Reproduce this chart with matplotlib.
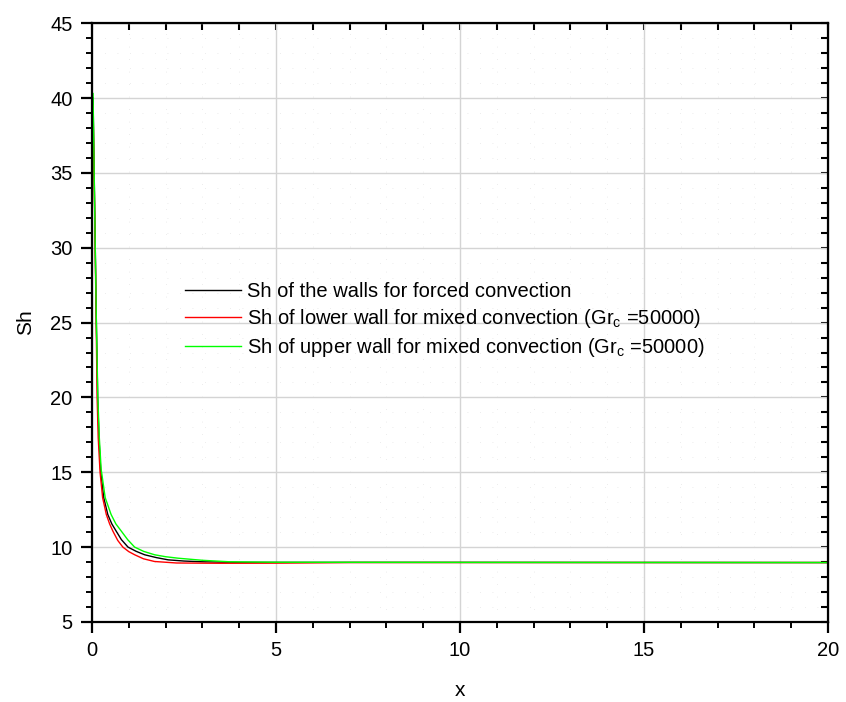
import matplotlib.pyplot as plt
from matplotlib.ticker import MultipleLocator

plt.rcParams['font.family'] = ['Liberation Sans', 'DejaVu Sans']
plt.rcParams['mathtext.fontset'] = 'custom'
plt.rcParams['mathtext.rm'] = 'Liberation Sans'
plt.rcParams['mathtext.it'] = 'Liberation Sans'

# Sh along the channel
x_forced = [0.03, 0.06, 0.09, 0.12, 0.155, 0.19, 0.24, 0.32, 0.43, 0.54, 0.66, 0.8, 0.98, 1.2, 1.43, 1.75, 2.07, 2.5, 3.0, 4.0, 10.0, 20.0]
sh_forced = [40.0, 35.0, 30.0, 25.0, 20.0, 17.3, 15.0, 13.3, 12.18, 11.55, 11.06, 10.5, 10.0, 9.72, 9.49, 9.3, 9.15, 9.07, 9.02, 8.98, 8.98, 8.97]

x_lower = [0.03, 0.06, 0.09, 0.115, 0.14, 0.17, 0.22, 0.29, 0.39, 0.48, 0.57, 0.7, 0.84, 1.0, 1.16, 1.4, 1.70, 2.3, 3.5, 5.0, 7.0, 20.0]
sh_lower = [39.5, 34.5, 29.5, 25.0, 20.0, 17.3, 15.0, 13.3, 12.18, 11.55, 11.06, 10.45, 10.0, 9.7, 9.49, 9.22, 9.04, 8.94, 8.92, 8.93, 8.97, 8.97]

x_upper = [0.03, 0.06, 0.09, 0.12, 0.16, 0.20, 0.25, 0.36, 0.52, 0.65, 0.80, 0.97, 1.16, 1.40, 1.70, 2.0, 2.34, 3.0, 3.75, 5.0, 10.0, 20.0]
sh_upper = [40.3, 35.0, 30.0, 25.0, 20.0, 17.3, 15.2, 13.3, 12.18, 11.55, 11.06, 10.5, 10.0, 9.72, 9.49, 9.36, 9.26, 9.12, 9.02, 8.99, 8.98, 8.97]

labels = ['Sh of the walls for forced convection',
          r'Sh of lower wall for mixed convection (Gr$_{\mathrm{c}}$ =50000)',
          r'Sh of upper wall for mixed convection (Gr$_{\mathrm{c}}$ =50000)']

fig = plt.figure(figsize=(8.46, 7.02), dpi=100)
ax = fig.add_axes([0.1087, 0.114, 0.870, 0.853])

ax.plot(x_forced, sh_forced, color='black', lw=1.0, label=labels[0])
ax.plot(x_lower, sh_lower, color='#ff0000', lw=1.0, label=labels[1])
ax.plot(x_upper, sh_upper, color='#00ff00', lw=1.0, label=labels[2])

ax.set_xlim(0, 20)
ax.set_ylim(5, 45)
ax.xaxis.set_major_locator(MultipleLocator(5))
ax.xaxis.set_minor_locator(MultipleLocator(1))
ax.yaxis.set_major_locator(MultipleLocator(5))
ax.yaxis.set_minor_locator(MultipleLocator(1))

ax.grid(True, which='major', color='#d4d4d4', lw=1.0)
ax.grid(True, which='minor', color='#e6e6e6', lw=0.6, linestyle=(0, (1, 14)))
ax.set_axisbelow(True)

for s in ax.spines.values():
    s.set_linewidth(1.6)
ax.tick_params(which='major', direction='out', length=8, width=1.6, labelsize=14.5, pad=6)
ax.tick_params(which='minor', direction='out', length=4.5, width=1.4)

top = ax.secondary_xaxis('top')
top.xaxis.set_major_locator(MultipleLocator(1))
top.tick_params(which='major', direction='in', length=5, width=1.5, labeltop=False)
right = ax.secondary_yaxis('right')
right.yaxis.set_major_locator(MultipleLocator(1))
right.tick_params(which='major', direction='in', length=5, width=1.5, labelright=False)

ax.set_xlabel('x', fontsize=15, labelpad=15)
ax.set_ylabel('Sh', fontsize=15, labelpad=11)

ax.legend(loc='center left', bbox_to_anchor=(0.2187, 0.544), bbox_transform=fig.transFigure,
          frameon=False, fontsize=14.5, handlelength=2.8, handletextpad=0.3,
          labelspacing=0.3, borderpad=0, borderaxespad=0)

fig.savefig('out.png', dpi=100)
